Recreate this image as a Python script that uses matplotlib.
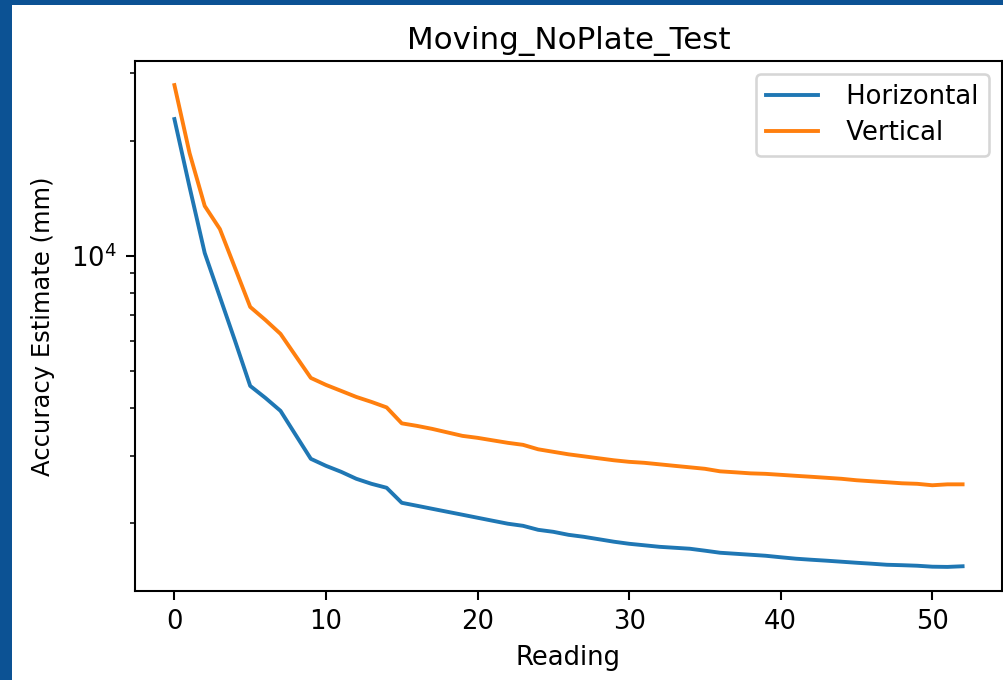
import numpy as np
import matplotlib
matplotlib.use('Agg')
import matplotlib.pyplot as plt
from matplotlib.patches import Rectangle

# accuracy estimates per reading
reading = np.arange(53)
horizontal = [22790, 15140, 10180, 7815, 6000, 4576, 4258, 3938, 3408, 2951,
              2829, 2729, 2617, 2539, 2479, 2265, 2225, 2185, 2146, 2108,
              2070, 2033, 1997, 1972, 1925, 1902, 1868, 1846, 1819, 1792,
              1770, 1754, 1738, 1728, 1718, 1698, 1677, 1667, 1657, 1647,
              1632, 1618, 1608, 1599, 1589, 1579, 1570, 1560, 1556, 1551,
              1542, 1540, 1546]
vertical = [27960, 18570, 13510, 11760, 9304, 7360, 6806, 6258, 5481, 4802,
            4604, 4441, 4282, 4156, 4021, 3653, 3598, 3534, 3460, 3388,
            3348, 3298, 3249, 3210, 3125, 3078, 3032, 2996, 2960, 2925,
            2898, 2881, 2855, 2829, 2804, 2779, 2737, 2721, 2704, 2696,
            2680, 2664, 2649, 2633, 2617, 2594, 2578, 2563, 2547, 2539,
            2517, 2531, 2531]

dpi = 186
fig = plt.figure(figsize=(1004/dpi, 680/dpi), dpi=dpi)
fig.patch.set_facecolor('#0c5294')
# white page inside the blue frame (frame only on left and top)
fig.add_artist(Rectangle((12/1004, 0), 1 - 12/1004, 1 - 5/680,
                         transform=fig.transFigure, facecolor='white',
                         edgecolor='none', zorder=-10))

ax = fig.add_axes([135/1004, 1 - 591/680, (1002 - 135)/1004, (591 - 61)/680])
ax.plot(reading, horizontal, label=' Horizontal')
ax.plot(reading, vertical, label=' Vertical')
ax.set_yscale('log')
ax.set_title('Moving_NoPlate_Test', pad=4.8)
ax.set_xlabel('Reading')
ax.set_ylabel('Accuracy Estimate (mm)', fontsize=9.4, labelpad=6.3)
ax.legend(loc='upper right', labelspacing=0.38)

fig.savefig('out.png', dpi=dpi, facecolor=fig.get_facecolor())
